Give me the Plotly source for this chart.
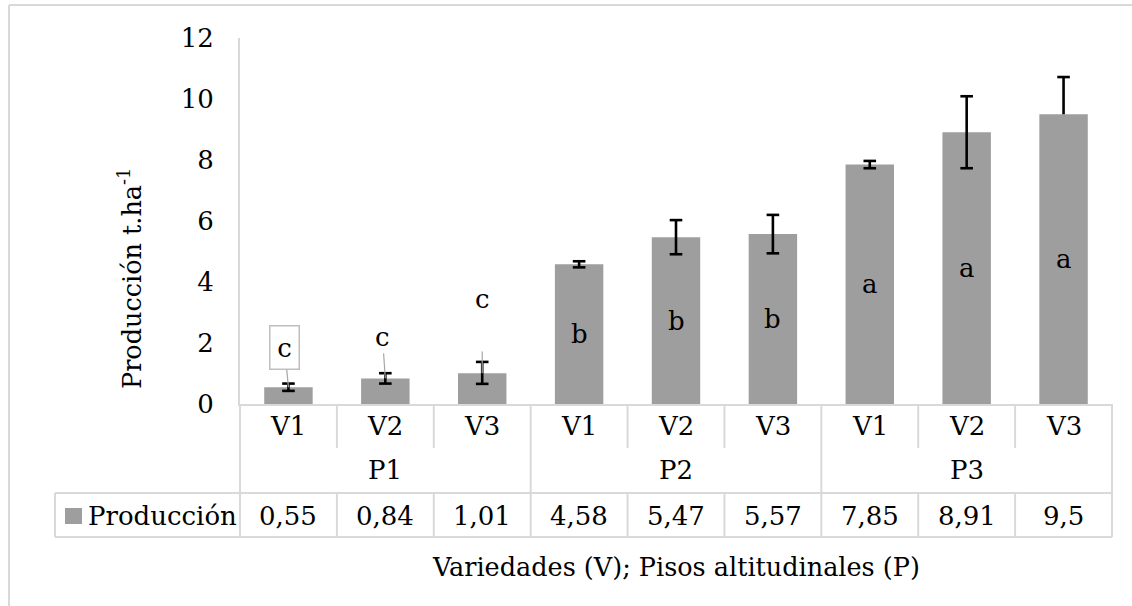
import plotly.graph_objects as go

# ---------------- data ----------------
varieties = ["V1", "V2", "V3", "V1", "V2", "V3", "V1", "V2", "V3"]
floors = ["P1", "P2", "P3"]
values = [0.55, 0.84, 1.01, 4.58, 5.47, 5.57, 7.85, 8.91, 9.5]
err_plus = [0.12, 0.17, 0.37, 0.10, 0.56, 0.63, 0.12, 1.18, 1.22]
err_minus = [0.12, 0.17, 0.35, 0.10, 0.56, 0.63, 0.12, 1.18, 0.0]
letters = ["c", "c", "c", "b", "b", "b", "a", "a", "a"]
outside_label_y = [1.84, 2.20, 3.44]   # label centres of the "c" labels above P1 bars
y_ticks = [0, 2, 4, 6, 8, 10, 12]
series_name = "Producción"
x_title = "Variedades (V); Pisos altitudinales (P)"
y_title = "Producción t.ha<sup>-1</sup>"

# ---------------- styling / layout ----------------
W, H = 1132, 606
L, R, T, B = 240, 20, 38, 202
PW, PH = W - L - R, H - T - B
FONT = "DejaVu Serif"
GRID = "#d9d9d9"
BAR = "#9e9e9e"
CAP = 0.065
n = len(values)
xs = list(range(n))


def px_x(px):
    return (px - L) / PW


def px_y(py):
    return (H - B - py) / PH


def bx(k):  # category boundary k (0..n) in paper coords
    return k / n


fig = go.Figure()
fig.add_trace(go.Bar(x=xs, y=values, width=0.5, marker=dict(color=BAR, line=dict(width=0)),
                     showlegend=False, hoverinfo="skip"))

# error bars as line segments computed from data
ex, ey = [], []
for i, (v, p, m) in enumerate(zip(values, err_plus, err_minus)):
    ex += [i, i, None, i - CAP, i + CAP, None]
    ey += [v - m, v + p, None, v + p, v + p, None]
    if m > 0:
        ex += [i - CAP, i + CAP, None]
        ey += [v - m, v - m, None]
fig.add_trace(go.Scatter(x=ex, y=ey, mode="lines", line=dict(color="black", width=2.6),
                         showlegend=False, hoverinfo="skip"))

shapes = []
line = dict(color=GRID, width=2)
# outer frame
shapes.append(dict(type="line", xref="paper", yref="paper", x0=px_x(9), x1=px_x(9),
                   y0=px_y(5), y1=px_y(700), line=line))
shapes.append(dict(type="line", xref="paper", yref="paper", x0=px_x(9), x1=px_x(1200),
                   y0=px_y(5), y1=px_y(5), line=line))
# table
y_axis = H - B
y_vrow = 448
y_prow = 493
y_drow = 537
for k in range(n + 1):
    if k % 3 == 0:
        shapes.append(dict(type="line", xref="paper", yref="paper", x0=bx(k), x1=bx(k),
                           y0=px_y(y_axis), y1=px_y(y_drow), line=line))
    else:
        shapes.append(dict(type="line", xref="paper", yref="paper", x0=bx(k), x1=bx(k),
                           y0=px_y(y_axis), y1=px_y(y_vrow), line=line))
        shapes.append(dict(type="line", xref="paper", yref="paper", x0=bx(k), x1=bx(k),
                           y0=px_y(y_prow), y1=px_y(y_drow), line=line))
for yy in (y_prow, y_drow):
    shapes.append(dict(type="line", xref="paper", yref="paper", x0=px_x(55), x1=bx(n),
                       y0=px_y(yy), y1=px_y(yy), line=line))
shapes.append(dict(type="line", xref="paper", yref="paper", x0=px_x(55), x1=px_x(55),
                   y0=px_y(y_prow), y1=px_y(y_drow), line=line))
# legend key
shapes.append(dict(type="rect", xref="paper", yref="paper", x0=px_x(65), x1=px_x(82),
                   y0=px_y(524), y1=px_y(508), fillcolor=BAR, line=dict(width=0)))

ann = []
tf = dict(family=FONT, size=26, color="black")
for i in xs:
    ann.append(dict(x=i, xref="x", y=px_y(426), yref="paper", text=varieties[i],
                    showarrow=False, font=tf, xanchor="center", yanchor="middle"))
    ann.append(dict(x=i, xref="x", y=px_y(516), yref="paper",
                    text=str(values[i]).replace(".", ","), showarrow=False, font=tf,
                    xanchor="center", yanchor="middle"))
for g, name in enumerate(floors):
    ann.append(dict(x=3 * g + 1, xref="x", y=px_y(470), yref="paper", text=name,
                    showarrow=False, font=tf, xanchor="center", yanchor="middle"))
ann.append(dict(x=px_x(86), xref="paper", y=px_y(516), yref="paper", text=series_name,
                showarrow=False, font=tf, xanchor="left", yanchor="middle"))

# letter labels
arrow_dx = [-0.04, -0.03, 0.0]
arrow_standoff = [0, 0, 36]
for i in xs:
    if i < 3:
        a = dict(x=i, y=values[i], xref="x", yref="y", axref="x", ayref="y",
                 ax=i + arrow_dx[i], ay=outside_label_y[i], text=letters[i], showarrow=True,
                 arrowhead=0, arrowwidth=1.2, arrowcolor="#a6a6a6", font=tf,
                 startstandoff=arrow_standoff[i])
        if i == 0:
            a.update(bordercolor="#bfbfbf", borderwidth=1.5, bgcolor="white",
                     borderpad=4, width=20, height=34)
        ann.append(a)
    else:
        ann.append(dict(x=i, y=values[i] / 2, xref="x", yref="y", text=letters[i],
                        showarrow=False, font=tf, xanchor="center", yanchor="middle"))

# titles
ann.append(dict(x=px_x(130), y=px_y(279), xref="paper", yref="paper", text=y_title,
                textangle=-90, showarrow=False, xanchor="center", yanchor="middle",
                font=dict(family=FONT, size=25.5, color="black")))
ann.append(dict(x=px_x(676), y=px_y(567), xref="paper", yref="paper", text=x_title,
                showarrow=False, xanchor="center", yanchor="middle",
                font=dict(family=FONT, size=25.5, color="black")))

fig.update_layout(
    width=W, height=H, margin=dict(l=L, r=R, t=T, b=B, pad=0),
    paper_bgcolor="white", plot_bgcolor="white",
    font=dict(family=FONT),
    bargap=0.5,
    xaxis=dict(range=[-0.5, n - 0.5], showticklabels=False, ticks="", showgrid=False,
               zeroline=False, showline=True, linecolor=GRID, linewidth=2, fixedrange=True),
    yaxis=dict(range=[0, 12], tickvals=y_ticks, ticks="", showgrid=False, zeroline=False,
               showline=True, linecolor=GRID, linewidth=2, ticklabelstandoff=19,
               tickfont=tf, fixedrange=True),
    shapes=shapes, annotations=ann, showlegend=False,
)
fig.write_html("out.html", config=dict(displayModeBar=False))
